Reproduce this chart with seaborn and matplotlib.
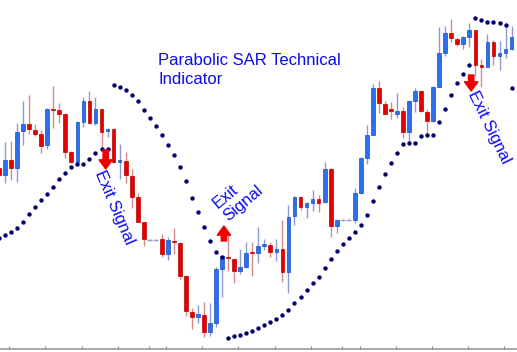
import numpy as np
import pandas as pd
import matplotlib
matplotlib.use('Agg')
import matplotlib.pyplot as plt
import seaborn as sns

# OHLC candles
opens = [182, 175, 190, 182, 219, 226, 220, 216, 205, 241, 240, 236, 198, 188, 228, 249, 227, 241, 219, 221,
         188.5, 189, 174, 153, 128, 110, 110, 111, 96, 109, 107, 74, 38, 33, 35, 18, 27, 81, 93, 91,
         79, 83, 98, 97, 104.5, 105, 98, 101, 78, 134, 153, 143, 147, 151, 148, 181, 124, 130, 130, 130,
         157, 192, 215, 262, 246, 240, 236, 239, 218, 249, 259, 238, 229, 263, 297, 317, 311, 306, 313, 320,
         285, 283, 308, 294, 297, 301]
highs = [185, 208, 209, 227, 249, 255, 226, 220, 242, 264, 247, 237, 199, 229, 253, 259, 253, 241, 222, 222,
         206, 198, 181, 157, 128, 111, 111, 116, 113, 122, 108, 75, 42, 45, 48, 47, 83, 95, 116, 92,
         101, 108, 108, 123, 111, 108, 111, 130, 145, 154, 154, 148, 160, 155, 188, 182, 131, 131, 131, 162,
         193, 225, 266, 269, 249, 248, 257, 243, 250, 262, 260, 241, 264, 323, 324, 331, 312, 314, 327, 320,
         291, 316, 310, 309, 323, 324]
lows = [170, 167, 170, 168, 205, 216, 214, 197, 201, 222, 227, 192, 187, 187, 223, 226, 225, 201, 213, 187,
        171, 167, 142, 128, 104, 109, 109, 93, 90, 96, 71, 34, 21, 27, 13, 14, 23, 53, 79, 67,
        76, 82, 74, 87, 100, 93, 89, 68, 57, 125, 140, 132, 139, 138, 147, 113, 117, 129, 129, 127,
        156, 186, 215, 237, 236, 231, 232, 212, 207, 238, 238, 215, 228, 263, 294, 308, 304, 301, 303, 274,
        263, 283, 285, 280, 292, 300]
closes = [175, 190, 182, 218, 226, 221, 216, 204, 241, 240, 236, 198, 188, 228, 249, 227, 241, 218, 221, 188,
          189, 175, 153, 128, 111, 110, 110, 96, 110, 108, 74, 39, 33, 36, 18, 27, 81, 94, 92, 79,
          83, 97, 97, 104, 105, 98, 101, 78, 133, 153, 143, 147, 151, 147, 181, 124, 130, 130, 130, 157,
          192, 215, 262, 247, 236, 239.5, 239, 218, 249, 259, 239, 229, 263, 297, 317, 312, 306, 313, 320, 285,
          283, 308, 294, 297, 301, 313]

# Parabolic SAR dots
sar = [112, 115, 118, 122, 128, 136, 143, 150, 156, 163, 171, 177, 183, 186, 186, 191, 197, 201, 201,
       265, 263, 260, 255, 249, 240, 232, 224, 215, 205, 195, 183, 169, 152, 138, 123, 109, 98, 93,
       12, 14, 15, 17, 19, 22, 25, 28, 31, 35, 40, 47, 53, 60, 67, 73, 82, 91, 99, 106, 112, 118,
       125, 135, 149, 163, 176, 187, 197, 206, 207, 207, 214, 215, 215, 228, 241, 255, 267, 276, 285,
       332, 330, 328, 328, 327, 325, 262]

# time-axis tick marks (bar positions)
tick_pos = [1.7, 7.7, 13.7, 19.7, 24.8, 27.7, 33.7, 39.7, 45.8, 51.7, 56.8, 59.8, 65.8, 71.8, 77.8, 83.8]

BLUE = '#2a6ff0'
BLUE_EDGE = '#1d4fc4'
BLUE_WICK = '#8c9ad8'
RED = '#e60000'
RED_EDGE = '#b80000'
RED_WICK = '#d58a8a'
TXT = '#0a0af5'

df = pd.DataFrame({'open': opens, 'high': highs, 'low': lows, 'close': closes, 'sar': sar})
df['bar'] = np.arange(len(df))
df['up'] = df['close'] >= df['open']

sns.set_theme(style='white')
plt.rcParams['font.family'] = ['Liberation Sans', 'DejaVu Sans']

fig = plt.figure(figsize=(5.17, 3.52), dpi=100)
ax = fig.add_axes([0, 3 / 352, 1, 349 / 352])

# wicks
for up, wick in [(True, BLUE_WICK), (False, RED_WICK)]:
    sub = df[df.up == up]
    ax.vlines(sub.bar, sub.low, sub.high, color=wick, lw=1.0, zorder=1)

# bodies
flat = df[df.open == df.close]
body = df[df.open != df.close]
for up, face, edge in [(True, BLUE, BLUE_EDGE), (False, RED, RED_EDGE)]:
    sub = body[body.up == up]
    h = (sub.close - sub.open).abs().clip(lower=1.3)
    ax.bar(sub.bar, h, bottom=sub[['open', 'close']].min(axis=1), width=0.62,
           color=face, edgecolor=edge, linewidth=0.5, zorder=2)
ax.hlines(flat.close, flat.bar - 0.5, flat.bar + 0.5, color='#a0a4c8', lw=1, ls='--', zorder=2)

# SAR
sns.scatterplot(data=df, x='bar', y='sar', color='#00006e', s=10, linewidth=0, ax=ax, legend=False, zorder=3)

# annotations
ax.text(26.4, 297, 'Parabolic SAR Technical\nIndicator', color=TXT, fontsize=12, ha='left', va='top',
        linespacing=1.3)
ax.text(19.2, 143, 'Exit Signal', color=TXT, fontsize=12, rotation=-67, ha='center', va='center')
ax.text(39.6, 153, 'Exit\nSignal', color=TXT, fontsize=12, rotation=40, ha='center', va='center',
        multialignment='left', linespacing=1.2)
ax.text(81.3, 223, 'Exit Signal', color=TXT, fontsize=12, rotation=-64, ha='center', va='center')

arrow = dict(arrowstyle='simple,head_length=0.55,head_width=0.8,tail_width=0.32', color='#ee0000',
             mutation_scale=12, shrinkA=0, shrinkB=0)
ax.annotate('', xy=(17.7, 181), xytext=(17.7, 200), arrowprops=arrow)
ax.annotate('', xy=(37.3, 124), xytext=(37.3, 109), arrowprops=arrow)
ax.annotate('', xy=(78.3, 259), xytext=(78.3, 275), arrowprops=arrow)

ax.set_xlim(0.166, 85.9)
ax.set_ylim(1, 350)
ax.set_xlabel('')
ax.set_ylabel('')
ax.set_xticks(tick_pos)
ax.set_yticks([])
ax.tick_params(axis='x', direction='in', length=2.5, width=0.8, color='#888888', labelbottom=False, bottom=True)
for s in ['top', 'left', 'right']:
    ax.spines[s].set_visible(False)
ax.spines['bottom'].set_color('#999999')
ax.spines['bottom'].set_linewidth(1.2)

fig.savefig('out.png', dpi=100)
